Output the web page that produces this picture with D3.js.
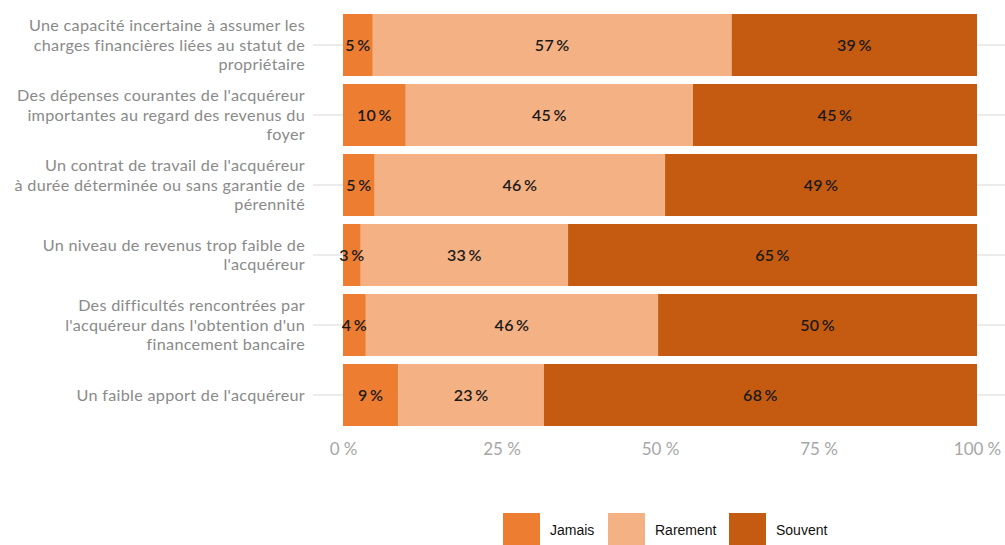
<!DOCTYPE html>
<html><head><meta charset="utf-8">
<script src="https://cdn.jsdelivr.net/npm/d3@7"></script>
<style>body{margin:0;background:#fff}svg{display:block}</style>
</head><body>
<script>
const categories = [
  ["Une capacité incertaine à assumer les","charges financières liées au statut de","propriétaire"],
  ["Des dépenses courantes de l'acquéreur","importantes au regard des revenus du","foyer"],
  ["Un contrat de travail de l'acquéreur","à durée déterminée ou sans garantie de","pérennité"],
  ["Un niveau de revenus trop faible de","l'acquéreur"],
  ["Des difficultés rencontrées par","l'acquéreur dans l'obtention d'un","financement bancaire"],
  ["Un faible apport de l'acquéreur"]
];
const seriesNames = ["Jamais","Rarement","Souvent"];
const jamais   = [4.7, 9.9, 5.0, 2.8, 3.6, 8.7];
const rarement = [56.6, 45.3, 45.8, 32.7, 46.1, 23.0];
const souvent  = [38.7, 44.8, 49.2, 64.5, 50.3, 68.3];
const tickValues = [0, 25, 50, 75, 100];
const colors = ["#ED7D31","#F4B183","#C55A11"];

const W = 1005, H = 545;
const svg = d3.select("body").append("svg").attr("width", W).attr("height", H);
const x = d3.scaleLinear().domain([0,100]).range([343, 977]);
const y = d3.scaleBand().domain(d3.range(categories.length)).range([10, 430]).paddingInner(0.114).paddingOuter(0.057);

svg.append("g").selectAll("line").data(d3.range(categories.length)).join("line")
  .attr("x1", 313).attr("x2", W)
  .attr("y1", i => y(i) + y.bandwidth()/2).attr("y2", i => y(i) + y.bandwidth()/2)
  .attr("stroke", "#e6e6e6").attr("stroke-width", 1.5);

const rows = categories.map((c,i) => ({i, Jamais: jamais[i], Rarement: rarement[i], Souvent: souvent[i]}));
const stacked = d3.stack().keys(seriesNames)(rows);

const g = svg.append("g");
stacked.forEach((s, si) => {
  g.append("g").selectAll("rect").data(s).join("rect")
    .attr("x", d => x(d[0])).attr("width", d => x(d[1]) - x(d[0]))
    .attr("y", d => y(d.data.i)).attr("height", y.bandwidth())
    .attr("fill", colors[si]);
});
stacked.forEach((s, si) => {
  g.append("g").selectAll("text").data(s).join("text")
    .attr("x", d => (x(d[0]) + x(d[1]))/2)
    .attr("y", d => y(d.data.i) + y.bandwidth()/2)
    .attr("dy", "0.35em").attr("text-anchor", "middle")
    .attr("font-family", "Lato, sans-serif").attr("font-size", 16).attr("font-weight", 600)
    .attr("fill", "#1a1a1a").attr("letter-spacing", 0.3)
    .text(d => Math.round(d[1]-d[0]) + "\u2009%");
});

const lab = svg.append("g").attr("font-family", "Lato, sans-serif").attr("font-size", 16.2)
  .attr("letter-spacing", 0.3).attr("fill", "#8a8a8a");
categories.forEach((lines, i) => {
  const cy = y(i) + y.bandwidth()/2;
  const lh = 19.5;
  lines.forEach((ln, k) => {
    lab.append("text").attr("text-anchor", "end").attr("x", 305)
      .attr("y", cy + (k - (lines.length-1)/2) * lh).attr("dy", "0.35em").text(ln);
  });
});

const xAxis = d3.axisBottom(x).tickValues(tickValues).tickSize(0).tickPadding(3).tickFormat(d => d + "\u2005%");
const ax = svg.append("g").attr("transform", "translate(0,440)").call(xAxis);
ax.select(".domain").remove();
ax.selectAll("text").attr("font-family", "Lato, sans-serif").attr("font-size", 17).attr("fill", "#a6a6a6");

const legX = [503, 608, 729];
const leg = svg.append("g");
seriesNames.forEach((n, i) => {
  leg.append("rect").attr("x", legX[i]).attr("y", 513).attr("width", 37).attr("height", 32).attr("fill", colors[i]);
  leg.append("text").attr("x", legX[i] + 47).attr("y", 530).attr("dy", "0.35em")
    .attr("font-family", "Liberation Sans, Arial, sans-serif").attr("font-size", 14).attr("fill", "#111")
    .text(n);
});
</script>
</body></html>
